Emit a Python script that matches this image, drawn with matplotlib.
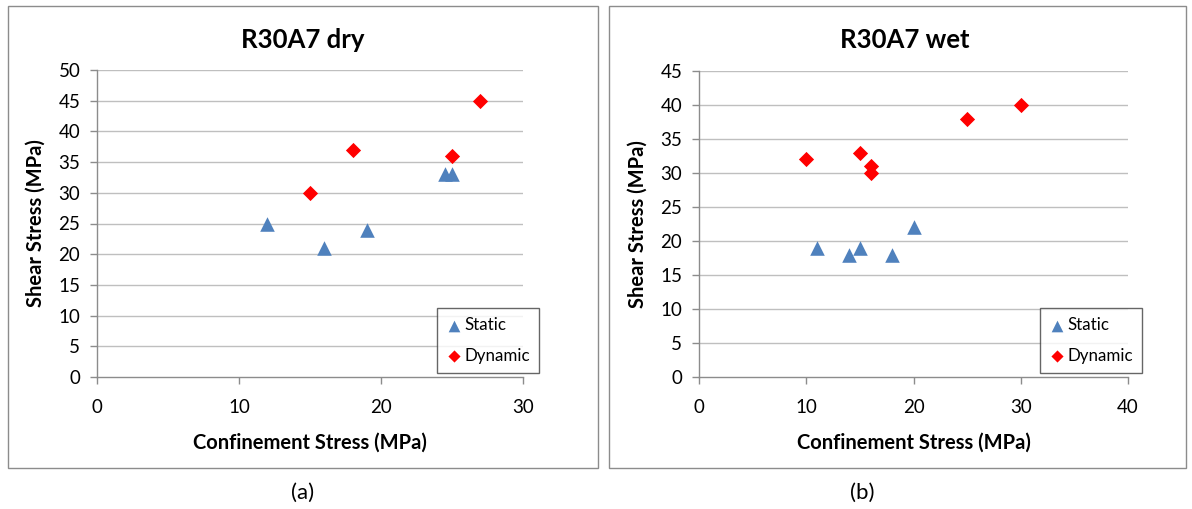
import matplotlib
matplotlib.use("Agg")
import matplotlib.pyplot as plt
from matplotlib.patches import Rectangle

plt.rcParams['font.family'] = ['Lato', 'DejaVu Sans']

# Panel (a) R30A7 dry
dry_static_x = [12, 16, 19, 24.5, 25]
dry_static_y = [25, 21, 24, 33, 33]
dry_dynamic_x = [15, 18, 25, 27]
dry_dynamic_y = [30, 37, 36, 45]

# Panel (b) R30A7 wet
wet_static_x = [11, 14, 15, 18, 20]
wet_static_y = [19, 18, 19, 18, 22]
wet_dynamic_x = [10, 15, 16, 16, 25, 30]
wet_dynamic_y = [32, 33, 31, 30, 38, 40]

titles = ["R30A7 dry", "R30A7 wet"]
panel_labels = ["(a)", "(b)"]
xlabel = "Confinement Stress (MPa)"
ylabel = "Shear Stress (MPa)"
legend_labels = ["Static", "Dynamic"]

W, H = 1192, 509
fig = plt.figure(figsize=(W / 100, H / 100), dpi=100)

def fx(px):
    return px / W

def fy(py):
    return 1 - py / H

static_color = "#4F81BD"
dynamic_color = "#FF0000"
grid_color = "#BFBFBF"
axis_color = "#8C8C8C"

panels = [
    dict(ax=(97, 523, 70, 377), box=(8, 598, 6, 468), xmax=30, xticks=[0, 10, 20, 30],
         ymax=50, yticks=list(range(0, 51, 5)),
         s=(dry_static_x, dry_static_y), d=(dry_dynamic_x, dry_dynamic_y),
         title_x=303, leg=(437, 536, 307, 373), lab_x=303),
    dict(ax=(699, 1128, 71, 377), box=(609, 1186, 6, 468), xmax=40, xticks=[0, 10, 20, 30, 40],
         ymax=45, yticks=list(range(0, 46, 5)),
         s=(wet_static_x, wet_static_y), d=(wet_dynamic_x, wet_dynamic_y),
         title_x=905, leg=(1040, 1137, 307, 373), lab_x=862),
]

for i, p in enumerate(panels):
    # outer chart border
    bx0, bx1, by0, by1 = p["box"]
    fig.patches.append(Rectangle((fx(bx0), fy(by1)), fx(bx1 - bx0), (by1 - by0) / H,
                                 transform=fig.transFigure, fill=False,
                                 edgecolor="#8C8C8C", linewidth=1.0))
    x0, x1, y0, y1 = p["ax"]
    ax = fig.add_axes([fx(x0), fy(y1), fx(x1 - x0), (y1 - y0) / H])
    ax.set_xlim(0, p["xmax"])
    ax.set_ylim(0, p["ymax"])
    ax.set_xticks(p["xticks"])
    ax.set_yticks(p["yticks"])
    for t in p["yticks"][1:]:
        ax.axhline(t, color=grid_color, linewidth=1.0, zorder=0)
    for side in ["top", "right"]:
        ax.spines[side].set_visible(False)
    for side in ["left", "bottom"]:
        ax.spines[side].set_color(axis_color)
        ax.spines[side].set_linewidth(1.0)
    ax.tick_params(axis="both", direction="out", length=5, width=1.0, color=axis_color,
                   labelsize=13.5, labelcolor="#000000")
    ax.tick_params(axis="y", pad=7)
    ax.tick_params(axis="x", pad=11)
    ax.scatter(*p["s"], marker="^", s=110, color=static_color, zorder=3, label=legend_labels[0],
               linewidths=0)
    ax.scatter(*p["d"], marker="D", s=60, color=dynamic_color, zorder=3, label=legend_labels[1],
               linewidths=0)
    ax.set_xlabel(xlabel, fontsize=14.5, fontweight="bold", labelpad=12)
    ax.set_ylabel(ylabel, fontsize=14.5, fontweight="bold", labelpad=9)
    fig.text(fx(p["title_x"]), fy(40), titles[i], fontsize=18.5, fontweight="bold",
             ha="center", va="center")
    fig.text(fx(p["lab_x"]), fy(493), panel_labels[i], fontsize=16, ha="center", va="center")
    lx0, lx1, ly0, ly1 = p["leg"]
    leg = ax.legend(loc="lower left",
                    bbox_to_anchor=(fx(lx0), fy(ly1)),
                    bbox_transform=fig.transFigure,
                    fontsize=12.2, frameon=True, fancybox=False, handletextpad=0.15,
                    handlelength=0.9, borderpad=0.55, labelspacing=0.85, markerscale=0.8,
                    borderaxespad=0)
    leg.get_frame().set_edgecolor("#404040")
    leg.get_frame().set_linewidth(1.0)

fig.savefig("out.png", dpi=100, facecolor="white")
